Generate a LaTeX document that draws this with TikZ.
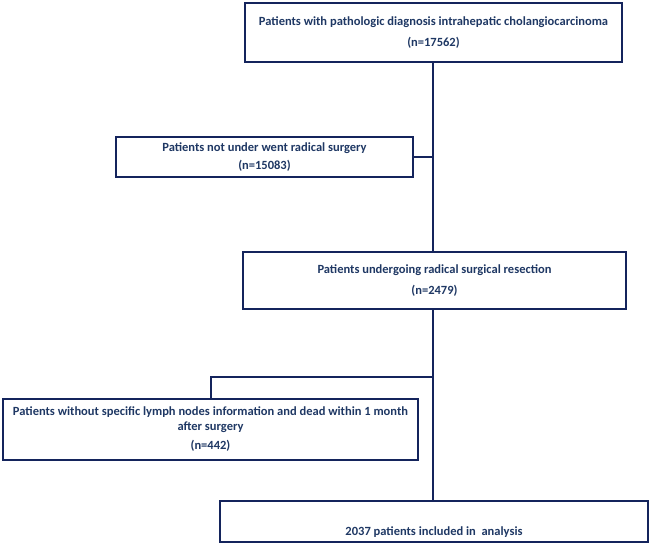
\documentclass[tikz,border=0pt]{standalone}
\usepackage{fontspec}
\setmainfont{Carlito}
\usetikzlibrary{calc}
\definecolor{boxnavy}{HTML}{14245C}
\definecolor{textnavy}{HTML}{1F3864}
\tikzset{
    flowbox/.style={draw=boxnavy,line width=2pt,fill=white,inner sep=0pt,align=center,
        text=textnavy,font=\fontsize{12.5}{15}\selectfont\bfseries},
    link/.style={draw=boxnavy,line width=2pt}
}
\begin{document}
\begin{tikzpicture}[x=1pt,y=-1pt]
        \useasboundingbox (0,0) rectangle (650,544);

        \node[flowbox,minimum width=377pt,minimum height=59pt] (diag) at (433.5,32.5)
            {Patients with pathologic diagnosis intrahepatic cholangiocarcinoma\\[6pt](n=17562)};
        \node[flowbox,minimum width=297pt,minimum height=40pt] (nosurg) at (264.5,157)
            {Patients not under went radical surgery\\[3pt](n=15083)};
        \node[flowbox,minimum width=383pt,minimum height=57pt] (resect) at (434.5,280.5)
            {Patients undergoing radical surgical resection\\[6pt](n=2479)};
        \node[flowbox,minimum width=415pt,minimum height=61pt] (excl) at (210.5,429.5)
            {Patients without specific lymph nodes information and dead within 1 month\\after surgery\\[4pt](n=442)};
        \node[flowbox,minimum width=428pt,minimum height=41pt,text height=30pt,text depth=3pt] (incl) at (434,521.5)
            {2037 patients included in~~analysis};

        % trunk and side branches
        \coordinate (split) at (433,377);
        \draw[link] (split |- diag.south) -- (split |- resect.north);
        \draw[link] (nosurg.east) -- (nosurg.east -| split);
        \draw[link] (split |- resect.south) -- (split |- incl.north);
        \draw[link] (split) -| (excl.north);
    \end{tikzpicture}
\end{document}
